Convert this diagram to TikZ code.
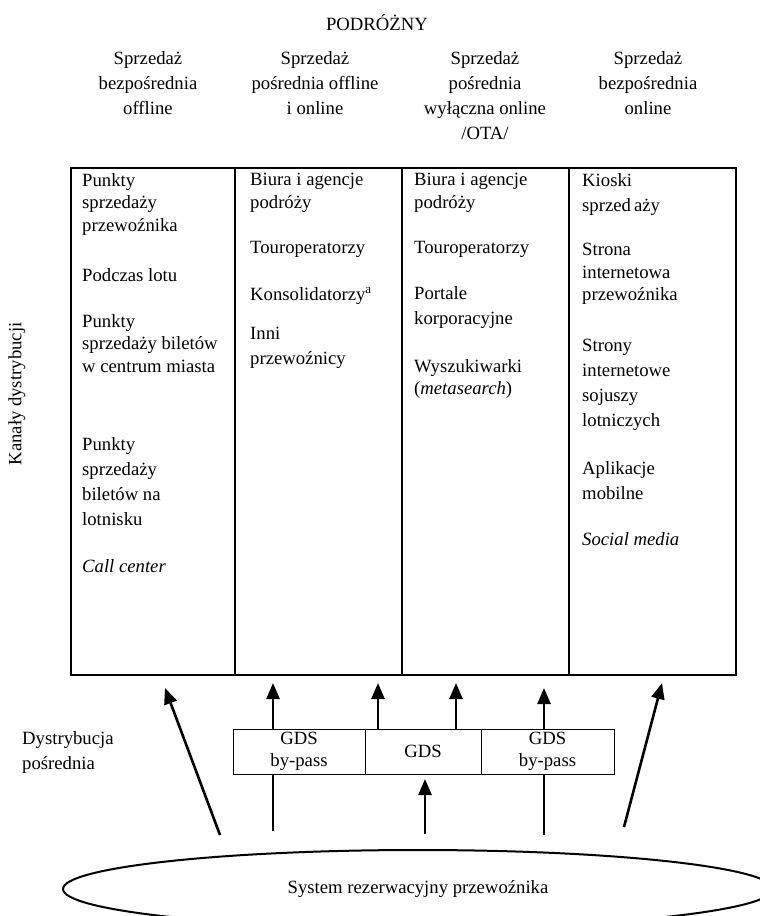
\documentclass[tikz,border=0pt]{standalone}
\usepackage{fontspec}
\setmainfont{Liberation Serif}
\usetikzlibrary{arrows.meta,shapes.geometric}
\tikzset{txt/.style={anchor=north west,yshift=14pt,align=left,inner sep=0pt,font=\fontsize{18.7}{22.5}\selectfont,execute at begin node={\rule{0pt}{14pt}}},
wide/.style={font=\fontsize{18.7}{25}\selectfont},
head/.style={anchor=north,yshift=14pt,align=center,inner sep=0pt,font=\fontsize{18.7}{25}\selectfont,execute at begin node={\rule{0pt}{14pt}}},
gds/.style={draw,line width=1pt,align=center,inner sep=0pt,minimum height=45pt,font=\fontsize{18.7}{22}\selectfont},
arr/.style={line width=2.6pt,-{Triangle[length=16pt,width=13pt]}},
stem/.style={line width=2.6pt}}

\begin{document}
\begin{tikzpicture}[x=1pt,y=-1pt]
\useasboundingbox (0,0) rectangle (760,916);
\clip (0,0) rectangle (760,916);
% top labels
\node[anchor=base,inner sep=0pt,font=\fontsize{18.7}{22.5}\selectfont] (pod) at (377,30.5) {PODRÓŻNY};
\node[head] (h1) at (148,65) {Sprzedaż\\bezpośrednia\\offline};
\node[head] (h2) at (315,65) {Sprzedaż\\pośrednia offline\\i online};
\node[head] (h3) at (485,65) {Sprzedaż\\pośrednia\\wyłączna online\\/OTA/};
\node[head] (h4) at (648,65) {Sprzedaż\\bezpośrednia\\online};
\node[rotate=90,inner sep=0pt,font=\fontsize{18.7}{22.5}\selectfont] (kan) at (17,394) {Kanały dystrybucji};
% table
\node[draw,line width=2pt,anchor=north west,inner sep=0pt,minimum width=665pt,minimum height=507pt] (tab) at (70,167) {};
\foreach \x in {235,402,569}
  \draw[line width=2pt] (\x,167) -- (\x,674);
% column 1
\node[txt] (p1) at (82,187) {Punkty\\sprzedaży\\przewoźnika};
\node[txt] (p2) at (82,281.5) {Podczas lotu};
\node[txt] (p3) at (82,328) {Punkty\\sprzedaży biletów\\w centrum miasta};
\node[txt,wide] (p4) at (82,451) {Punkty\\sprzedaży\\biletów na\\lotnisku};
\node[txt] (p5) at (82,572) {\textit{Call center}};
% column 2
\node[txt] (q1) at (250,187) {Biura i agencje\\podróży};
\node[txt] (q2) at (250,253) {Touroperatorzy};
\node[txt] (q3) at (250,300) {Konsolidatorzy\textsuperscript{a}};
\node[txt,wide] (q4) at (250,341) {Inni\\przewoźnicy};
% column 3
\node[txt] (r1) at (414,187) {Biura i agencje\\podróży};
\node[txt] (r2) at (414,253) {Touroperatorzy};
\node[txt,wide] (r3) at (414,300) {Portale\\korporacyjne};
\node[txt] (r4) at (414,373) {Wyszukiwarki\\(\textit{metasearch})};
% column 4
\node[txt,wide] (s1) at (582,187) {Kioski\\sprzed\hspace{3pt}aży};
\node[txt] (s2) at (582,257) {Strona\\internetowa\\przewoźnika};
\node[txt,wide] (s3) at (582,353) {Strony\\internetowe\\sojuszy\\lotniczych};
\node[txt,wide] (s4) at (582,475) {Aplikacje\\mobilne};
\node[txt] (s5) at (582,545) {\textit{Social media}};
% GDS
\node[txt,wide] (dys) at (22,745) {Dystrybucja\\pośrednia};
\node[gds,minimum width=132pt] (g1) at (299,751.5) {GDS\\by-pass};
\node[gds,minimum width=116pt] (g2) at (423,751.5) {GDS};
\node[gds,minimum width=133pt] (g3) at (547.5,751.5) {GDS\\by-pass};
\node[draw,ellipse,line width=2pt,minimum width=710pt,minimum height=78pt,inner sep=0pt,font=\fontsize{18.7}{22.5}\selectfont] (sys) at (418,889) {System rezerwacyjny przewoźnika};
% arrows
\coordinate (a1) at (220,835); \coordinate (b1) at (165,688);
\coordinate (a2) at (273,831); \coordinate (b2) at (273,683);
\coordinate (b3) at (378,683); \coordinate (b4) at (456,683);
\coordinate (a5) at (544,835); \coordinate (b5) at (544,688);
\coordinate (a6) at (624,827); \coordinate (b6) at (662,683);
\coordinate (a7) at (425,834); \coordinate (b7) at (425,779);
\path[arr] (a1) edge (b1);
\path[stem] (a2) edge (a2 |- g1.south);
\path[arr] (b2 |- g1.north) edge (b2);
\path[arr] (b3 |- g2.north) edge (b3);
\path[arr] (b4 |- g2.north) edge (b4);
\path[arr] (b5 |- g3.north) edge (b5);
\path[stem] (a5) edge (a5 |- g3.south);
\path[arr] (a6) edge (b6);
\path[arr] (a7) edge (b7);
\end{tikzpicture}
\end{document}
